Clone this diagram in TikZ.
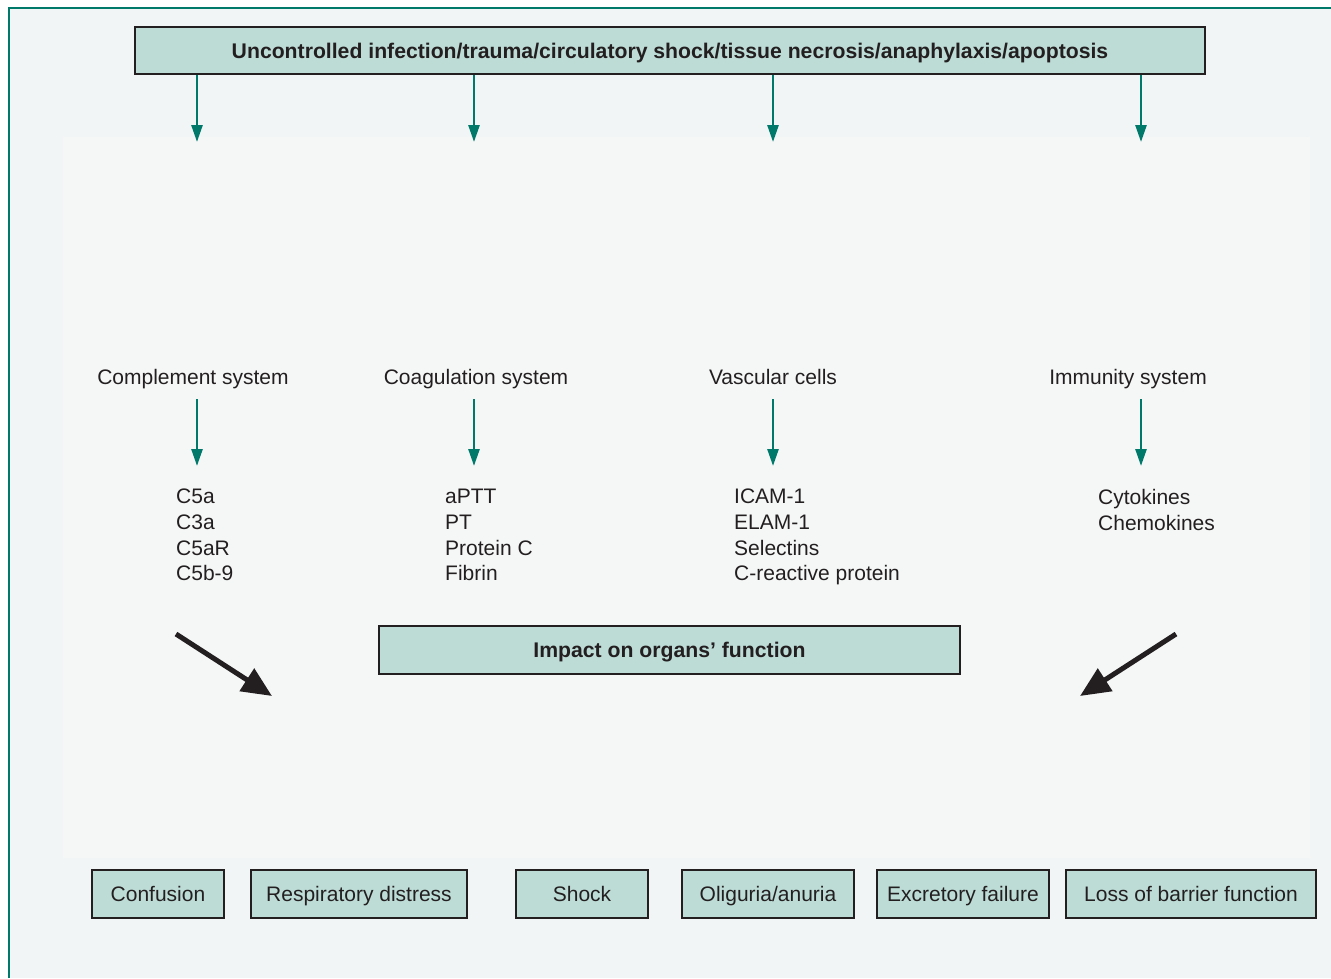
\documentclass[tikz,border=0pt]{standalone}
\usepackage{fontspec}
\setmainfont{Liberation Sans}
\usetikzlibrary{arrows.meta,calc}

\definecolor{boxfill}{HTML}{BDDCD6}
\definecolor{tealline}{HTML}{00786A}
\definecolor{pagebg}{HTML}{F1F5F6}
\definecolor{innerbg}{HTML}{F5F7F7}
\definecolor{inkline}{HTML}{231F20}

\begin{document}
\begin{tikzpicture}[x=1pt,y=-1pt]
\tikzset{box/.style = {shape=rectangle,draw=inkline,line width=2pt,fill=boxfill,inner sep=0pt,
  text height=15.5pt,text depth=0pt,font=\fontsize{21}{25.7}\selectfont,text=inkline}}
\tikzset{bigbox/.style = {box,font=\fontsize{21.2}{25.7}\selectfont\bfseries}}
\tikzset{lab/.style = {inner sep=0pt,font=\fontsize{21}{25.7}\selectfont,text=inkline}}
\tikzset{list/.style = {lab,align=left,anchor=north west,execute at begin node=\strut}}
\tikzset{flow/.style = {draw=tealline,line width=2.6pt,-{Triangle[length=17pt,width=11pt]}}}
\tikzset{impact/.style = {draw=inkline,line width=5pt,-{Triangle[length=30pt,width=26pt]}}}

% background and frame
\useasboundingbox (0,0) rectangle (1331,978);
\fill[white] (0,0) rectangle (1331,978);
\fill[pagebg] (9,8) rectangle (1331,978);
\fill[innerbg] (63,137) rectangle (1310,858);
\draw[tealline,line width=2pt] (9,978) -- (9,8) -- (1331,8);

%causes
\node[bigbox,minimum width=1070pt,minimum height=47pt] (cause) at (670,50.5)
  {Uncontrolled infection/trauma/circulatory shock/tissue necrosis/anaphylaxis/apoptosis};

% ----- columns
\coordinate (t1) at (197,142);
\coordinate (t2) at (474,142);
\coordinate (t3) at (773,142);
\coordinate (t4) at (1141,142);

\draw[flow] (cause.south -| t1) to (t1);
\draw[flow] (cause.south -| t2) to (t2);
\draw[flow] (cause.south -| t3) to (t3);
\draw[flow] (cause.south -| t4) to (t4);

\node[lab,anchor=base] (compl) at (193,384) {Complement system};
\node[lab,anchor=base] (coag)  at (476,384) {Coagulation system};
\node[lab,anchor=base] (vasc)  at (773,384) {Vascular cells};
\node[lab,anchor=base] (immun) at (1128,384) {Immunity system};

\node[list] (compl_l) at (176,489) {C5a\\C3a\\C5aR\\C5b-9};
\node[list] (coag_l)  at (445,489) {aPTT\\PT\\Protein C\\Fibrin};
\node[list] (vasc_l)  at (734,489) {ICAM-1\\ELAM-1\\Selectins\\C-reactive protein};
\node[list] (immun_l) at (1098,489) {Cytokines\\Chemokines};

\draw[flow] ($(compl.base -| t1)+(0,15)$) to ($(compl.base -| t1)+(0,82)$);
\draw[flow] ($(coag.base -| t2)+(0,15)$) to ($(coag.base -| t2)+(0,82)$);
\draw[flow] ($(vasc.base -| t3)+(0,15)$) to ($(vasc.base -| t3)+(0,82)$);
\draw[flow] ($(immun.base -| t4)+(0,15)$) to ($(immun.base -| t4)+(0,82)$);

%impact
\node[bigbox,minimum width=581pt,minimum height=48pt] (impact) at (669.5,650) {Impact on organs’ function};

\coordinate (l_from) at (176,634);
\coordinate (l_to) at (272,696);
\coordinate (r_from) at (1176,634);
\coordinate (r_to) at (1080,696);
\draw[impact] (l_from) to (l_to);
\draw[impact] (r_from) to (r_to);

%-----organs
\node[box,minimum width=132pt,minimum height=48pt] (o1) at (158,894) {Confusion};
\node[box,minimum width=216pt,minimum height=48pt] (o2) at (359,894) {Respiratory distress};
\node[box,minimum width=132pt,minimum height=48pt] (o3) at (582,894) {Shock};
\node[box,minimum width=172pt,minimum height=48pt] (o4) at (768,894) {Oliguria/anuria};
\node[box,minimum width=172pt,minimum height=48pt] (o5) at (963,894) {Excretory failure};
\node[box,minimum width=250pt,minimum height=48pt] (o6) at (1191,894) {Loss of barrier function};
\end{tikzpicture}
\end{document}
